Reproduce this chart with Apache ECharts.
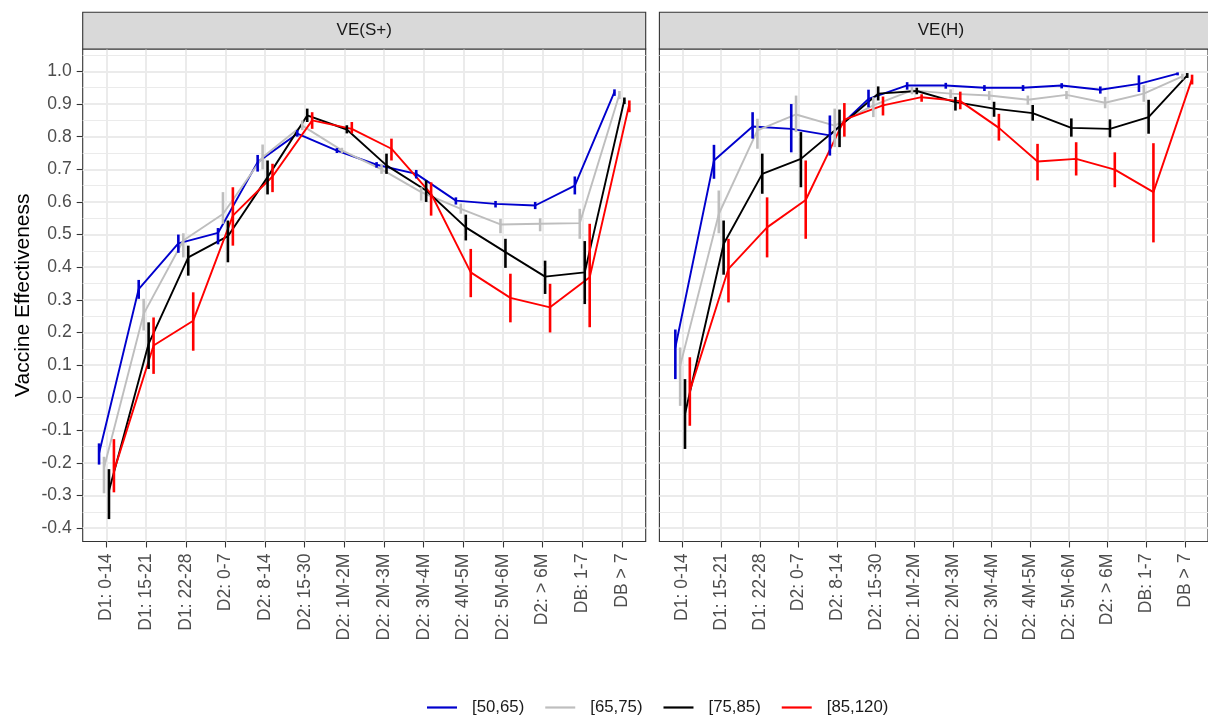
<!DOCTYPE html>
<html>
<head>
<meta charset="utf-8">
<script src="https://cdn.jsdelivr.net/npm/echarts@6/dist/echarts.min.js"></script>
<style>
html,body{margin:0;padding:0;background:#fff;}
#chart{width:1208px;height:716px;}
</style>
</head>
<body>
<div id="chart"></div>
<script>
// ---------- DATA ----------
const categories = ['D1: 0-14','D1: 15-21','D1: 22-28','D2: 0-7','D2: 8-14','D2: 15-30','D2: 1M-2M','D2: 2M-3M','D2: 3M-4M','D2: 4M-5M','D2: 5M-6M','D2: > 6M','DB: 1-7','DB > 7'];
const groups = ['[50,65)','[65,75)','[75,85)','[85,120)'];
const panels = ['VE(S+)','VE(H)'];
const yTicks = [-0.4,-0.3,-0.2,-0.1,0.0,0.1,0.2,0.3,0.4,0.5,0.6,0.7,0.8,0.9,1.0];
const yMinorTicks = [-0.35,-0.25,-0.15,-0.05,0.05,0.15,0.25,0.35,0.45,0.55,0.65,0.75,0.85,0.95,1.05];

// [estimate, lower, upper] per category
const sPlus_50_65 = [[-0.17,-0.205,-0.14],[0.333,0.303,0.361],[0.473,0.444,0.50],[0.505,0.47,0.52],[0.722,0.693,0.744],[0.809,0.80,0.82],[0.757,0.75,0.765],[0.714,0.705,0.722],[0.686,0.672,0.698],[0.604,0.592,0.614],[0.594,0.583,0.603],[0.589,0.578,0.60],[0.65,0.623,0.678],[0.937,0.925,0.945]];
const sPlus_65_75 = [[-0.215,-0.293,-0.181],[0.257,0.206,0.303],[0.482,0.43,0.504],[0.563,0.533,0.63],[0.737,0.70,0.776],[0.834,0.82,0.85],[0.758,0.75,0.766],[0.70,0.686,0.717],[0.63,0.604,0.645],[0.579,0.564,0.595],[0.531,0.504,0.548],[0.533,0.51,0.55],[0.535,0.487,0.579],[0.93,0.915,0.94]];
const sPlus_75_85 = [[-0.285,-0.372,-0.219],[0.165,0.088,0.231],[0.43,0.374,0.466],[0.495,0.415,0.543],[0.676,0.623,0.727],[0.865,0.845,0.886],[0.822,0.81,0.835],[0.712,0.686,0.748],[0.635,0.60,0.666],[0.522,0.482,0.561],[0.446,0.398,0.487],[0.371,0.318,0.42],[0.384,0.287,0.48],[0.913,0.90,0.92]];
const sPlus_85_120 = [[-0.225,-0.29,-0.127],[0.16,0.073,0.246],[0.236,0.144,0.323],[0.558,0.466,0.645],[0.678,0.63,0.717],[0.85,0.824,0.875],[0.824,0.81,0.845],[0.763,0.727,0.794],[0.625,0.558,0.66],[0.384,0.308,0.456],[0.306,0.231,0.38],[0.277,0.20,0.349],[0.369,0.216,0.533],[0.90,0.875,0.911]];

const hosp_50_65 = [[0.154,0.057,0.209],[0.727,0.671,0.775],[0.831,0.794,0.875],[0.824,0.752,0.90],[0.804,0.742,0.865],[0.916,0.89,0.944],[0.957,0.944,0.967],[0.957,0.947,0.965],[0.95,0.94,0.958],[0.95,0.94,0.958],[0.957,0.948,0.964],[0.944,0.932,0.954],[0.962,0.937,0.988],[0.993,0.988,0.997]];
const hosp_65_75 = [[0.098,-0.025,0.154],[0.563,0.504,0.635],[0.819,0.763,0.855],[0.868,0.814,0.926],[0.834,0.768,0.886],[0.896,0.86,0.921],[0.942,0.93,0.952],[0.932,0.918,0.945],[0.926,0.912,0.94],[0.913,0.898,0.926],[0.928,0.915,0.94],[0.904,0.887,0.922],[0.932,0.907,0.958],[0.985,0.975,0.993]];
const hosp_75_85 = [[-0.05,-0.157,0.057],[0.471,0.377,0.543],[0.686,0.625,0.748],[0.732,0.645,0.814],[0.831,0.768,0.883],[0.932,0.911,0.954],[0.94,0.93,0.95],[0.906,0.88,0.922],[0.886,0.861,0.907],[0.872,0.849,0.897],[0.827,0.80,0.856],[0.824,0.798,0.853],[0.86,0.809,0.913],[0.988,0.98,0.995]];
const hosp_85_120 = [[0.021,-0.086,0.124],[0.395,0.292,0.487],[0.522,0.43,0.614],[0.606,0.487,0.727],[0.852,0.80,0.903],[0.896,0.865,0.923],[0.921,0.907,0.93],[0.909,0.884,0.938],[0.827,0.788,0.87],[0.724,0.666,0.778],[0.732,0.681,0.783],[0.699,0.645,0.752],[0.63,0.476,0.78],[0.978,0.96,0.99]];

const panelData = [
  [sPlus_50_65, sPlus_65_75, sPlus_75_85, sPlus_85_120],
  [hosp_50_65, hosp_65_75, hosp_75_85, hosp_85_120]
];

// ---------- STYLE / LAYOUT ----------
const colors = ['#0000CD','#BEBEBE','#000000','#FF0000'];
const dodge = [-0.1875,-0.0625,0.0625,0.1875];
const FONT = 'Liberation Sans, Arial, Helvetica, sans-serif';
const panelLeft = [82.7, 659.4];
const panelW = 563;
const panelTop = 49;
const panelH = 492.5;
const yMin = -0.4407, yMax = 1.0687;
const catIdx = categories.map((c,i)=>i+1);

const chart = echarts.init(document.getElementById('chart'), null, {renderer:'canvas'});

const grids = [], xAxes = [], yAxes = [], series = [], graphics = [];
panels.forEach((p, pi) => {
  grids.push({left: panelLeft[pi], top: panelTop, width: panelW, height: panelH,
    show: true, backgroundColor: '#FFFFFF', borderColor: '#333333', borderWidth: 1.1});
  xAxes.push({type:'value', gridIndex: pi, min: 0.4, max: 14.6, position:'bottom',
    axisLine:{show:false, onZero:false},
    axisTick:{show:true, customValues: catIdx, length: 6, lineStyle:{color:'#333333', width:1.1}},
    axisLabel:{show:true, customValues: catIdx, rotate: 90, margin: 12, fontSize: 17.6, color:'#4D4D4D', fontFamily: FONT,
      formatter: v => categories[Math.round(v)-1]},
    splitLine:{show:true, lineStyle:{color:'#EBEBEB', width:2}}
  });
  // major y axis
  yAxes.push({type:'value', gridIndex: pi, min: yMin, max: yMax,
    axisLine:{show:false, onZero:false},
    axisTick:{show: pi===0, customValues: yTicks, length: 6, lineStyle:{color:'#333333', width:1.1}},
    axisLabel:{show: pi===0, customValues: yTicks, margin: 11, fontSize: 17.6, color:'#4D4D4D', fontFamily: FONT,
      formatter: v => v.toFixed(1)},
    splitLine:{show:true, lineStyle:{color:'#EBEBEB', width:2}}
  });
  // minor y axis
  yAxes.push({type:'value', gridIndex: pi, min: yMin, max: yMax,
    axisLine:{show:false, onZero:false},
    axisTick:{show:false, customValues: yMinorTicks},
    axisLabel:{show:false, customValues: yMinorTicks},
    splitLine:{show:true, lineStyle:{color:'#EBEBEB', width:1.1}}
  });
  // strip header
  graphics.push({type:'rect', shape:{x: panelLeft[pi], y: 12.3, width: panelW, height: panelTop-12.3},
    style:{fill:'#D9D9D9', stroke:'#333333', lineWidth:1.1}, z: 10});
  graphics.push({type:'text', x: panelLeft[pi] + panelW/2, y: (12.3+panelTop)/2,
    style:{text: p, fill:'#1A1A1A', font: '17px ' + FONT, textAlign:'center', textVerticalAlign:'middle'}, z: 11});
});

// lines
panels.forEach((p, pi) => {
  groups.forEach((g, gi) => {
    series.push({type:'line', name: g, xAxisIndex: pi, yAxisIndex: pi*2,
      data: panelData[pi][gi].map((d, ci) => [ci+1+dodge[gi], d[0]]),
      showSymbol:false, symbol:'none', clip:false, z: 3,
      lineStyle:{color: colors[gi], width: 1.9}, itemStyle:{color: colors[gi]}, animation:false});
  });
});
// error bars
panels.forEach((p, pi) => {
  groups.forEach((g, gi) => {
    series.push({type:'custom', name: g, xAxisIndex: pi, yAxisIndex: pi*2,
      data: panelData[pi][gi].map((d, ci) => [ci+1+dodge[gi], d[1], d[2]]),
      encode:{x:0, y:[1,2]}, clip:false, z: 4, animation:false,
      itemStyle:{color: colors[gi]},
      renderItem: (params, api) => {
        const x = api.value(0);
        const a = api.coord([x, api.value(1)]);
        const b = api.coord([x, api.value(2)]);
        return {type:'line', shape:{x1:a[0], y1:a[1], x2:b[0], y2:b[1]},
          style:{stroke: colors[gi], lineWidth: 2.6}};
      }});
  });
});

// y title
graphics.push({type:'text', x: 23, y: panelTop + panelH/2, rotation: Math.PI/2,
  style:{text:'Vaccine Effectiveness', fill:'#000000', font:'21px ' + FONT, textAlign:'center', textVerticalAlign:'middle'}});

chart.setOption({
  animation:false,
  backgroundColor:'#FFFFFF',
  grid: grids, xAxis: xAxes, yAxis: yAxes, series: series,
  graphic: graphics,
  legend:{left: 422, top: 694, icon:'rect', itemWidth: 30, itemHeight: 2.2, itemGap: 21,
    data: groups, selectedMode:false,
    textStyle:{fontSize:16.8, color:'#1A1A1A', fontFamily: FONT, padding:[0,0,0,10]}}
});
</script>
</body>
</html>
